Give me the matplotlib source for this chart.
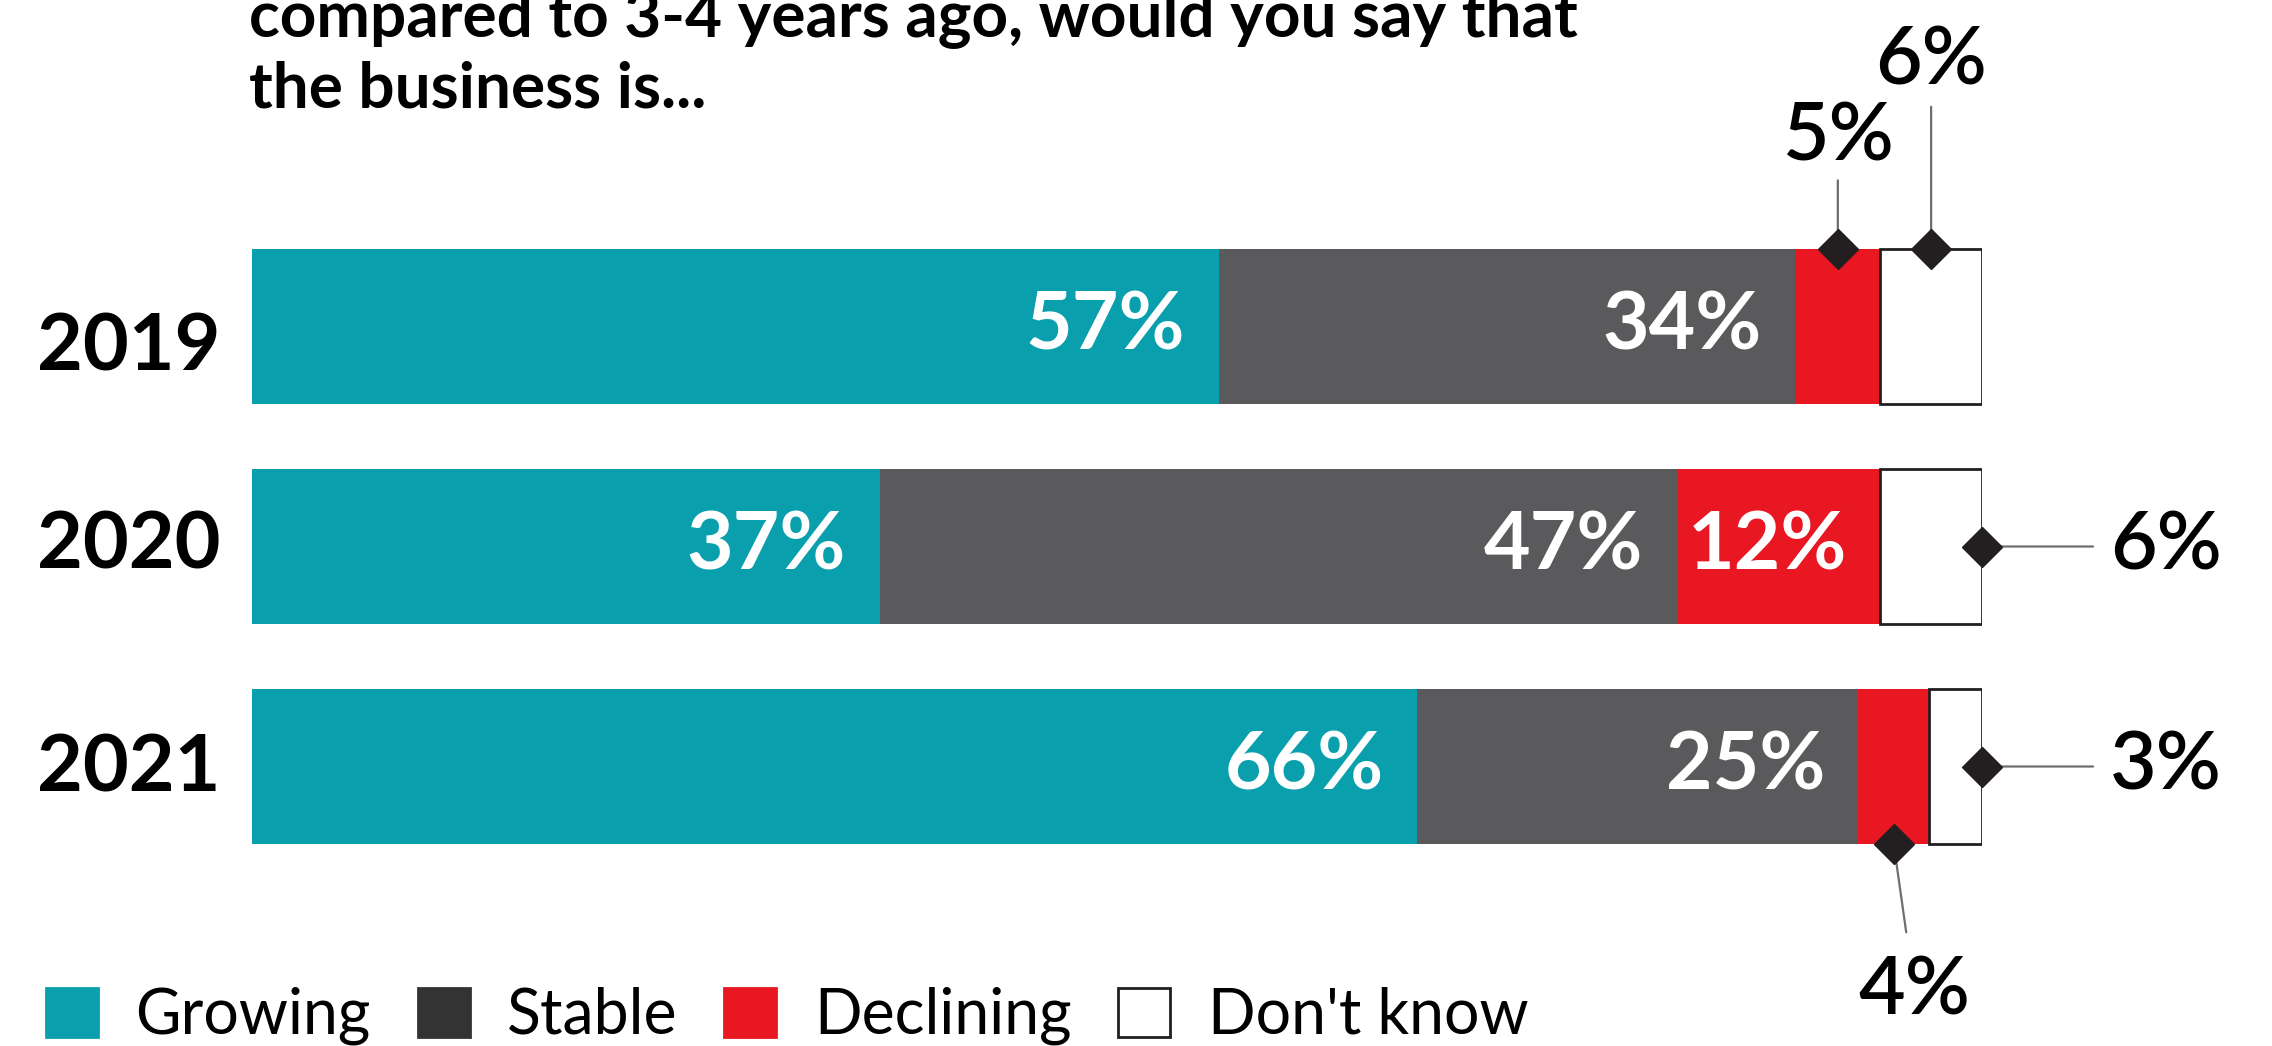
import numpy as np
import matplotlib.pyplot as plt
import matplotlib.transforms as mtransforms
from matplotlib.patches import Patch

plt.rcParams["font.family"] = ["Lato", "DejaVu Sans"]

# ============================================================
# DATA
# ============================================================
YEARS = ["2019", "2020", "2021"]
CATEGORIES = ["Growing", "Stable", "Declining", "Don't know"]
GROWING = [57, 37, 66]
STABLE = [34, 47, 25]
DECLINING = [5, 12, 4]
DONT_KNOW = [6, 6, 3]

TITLE = "compared to 3-4 years ago, would you say that\nthe business is..."

# ============================================================
# STYLE
# ============================================================
BAR_COLORS = ["#0a9fad", "#5a5a5c", "#e81721", "white"]
LEGEND_COLORS = ["#0a9fad", "#333333", "#e81721", "white"]
INK = "#231f20"
BAR_HEIGHT = 0.705
VALUE_SIZE = 58

# small segments get their value outside the bar with a leader line:
# (year index, category index, side, text offset in points, gap in points)
CALLOUTS = [
    (0, 2, "top", (0, 80), 2),
    (0, 3, "top", (0, 135), 4),
    (1, 3, "right", (92, 0), 10),
    (2, 3, "right", (92, 0), 10),
    (2, 2, "bottom", (15, -106), 14),
]
# the 2019 label sits a little lower than its bar
YEAR_NUDGE_PX = [-22, 0, -3]


def main():
    values = np.array([GROWING, STABLE, DECLINING, DONT_KNOW], dtype=float).T
    shares = values / values.sum(axis=1, keepdims=True)
    lefts = np.cumsum(shares, axis=1) - shares
    y = np.arange(len(YEARS))

    fig = plt.figure(figsize=(22.72, 10.46), dpi=100)
    ax = fig.add_axes([252 / 2272, 1 - 876.5 / 1046, 1730 / 2272, 660 / 1046])

    for j, cat in enumerate(CATEGORIES):
        edge = INK if BAR_COLORS[j] == "white" else "none"
        ax.barh(y, shares[:, j], left=lefts[:, j], height=BAR_HEIGHT,
                color=BAR_COLORS[j], edgecolor=edge, linewidth=2, label=cat, zorder=2)

    ax.set_xlim(0, 1)
    ax.set_ylim(len(YEARS) - 0.5, -0.5)
    ax.axis("off")

    # year labels left of the bars
    for i, year in enumerate(YEARS):
        tr = mtransforms.blended_transform_factory(ax.transAxes, ax.transData)
        tr = tr + mtransforms.ScaledTranslation(-32 / 100, YEAR_NUDGE_PX[i] / 100,
                                                fig.dpi_scale_trans)
        ax.text(0, i, year, transform=tr, ha="right", va="center",
                fontsize=57, fontweight="bold", color="black")

    outside = {(i, j) for i, j, *_ in CALLOUTS}

    # values inside the segments, right aligned
    for i in range(len(YEARS)):
        for j in range(len(CATEGORIES)):
            if (i, j) in outside:
                continue
            ax.annotate(f"{values[i, j]:.0f}%", xy=(lefts[i, j] + shares[i, j], i),
                        xytext=(-24, 0), textcoords="offset points",
                        ha="right", va="center", fontsize=VALUE_SIZE,
                        fontweight="bold", color="white", zorder=4)

    # callouts with a diamond on the bar edge
    for i, j, side, offset, gap in CALLOUTS:
        if side == "top":
            px, py = lefts[i, j] + shares[i, j] / 2, i - BAR_HEIGHT / 2
            ha = "center"
        elif side == "bottom":
            px, py = lefts[i, j] + shares[i, j] / 2, i + BAR_HEIGHT / 2
            ha = "center"
        else:
            px, py = lefts[i, j] + shares[i, j], i
            ha = "left"
        ax.annotate(f"{values[i, j]:.0f}%", xy=(px, py), xytext=offset,
                    textcoords="offset points", ha=ha, va="center",
                    fontsize=VALUE_SIZE, fontweight="semibold", color="black",
                    annotation_clip=False,
                    arrowprops=dict(arrowstyle="-", color="#6d6e70", lw=1.6,
                                    shrinkA=gap, shrinkB=0))
        ax.plot(px, py, marker="D", ms=20, color=INK, clip_on=False, zorder=6)

    fig.text(249 / 2272, 1 - 108 / 1046, TITLE, ha="left", va="baseline",
             fontsize=46, fontweight="bold", linespacing=1.28)

    handles = [Patch(facecolor=c, edgecolor=INK if c == "white" else c, linewidth=2)
               for c in LEGEND_COLORS]
    fig.legend(handles, CATEGORIES, loc="center left",
               bbox_to_anchor=(46 / 2272, 1 - 1016 / 1046), ncol=4,
               frameon=False, fontsize=45, handlelength=0.83, handleheight=0.83,
               handletextpad=0.6, columnspacing=0.75, borderpad=0,
               borderaxespad=0)

    fig.savefig("out.png", dpi=100)


if __name__ == "__main__":
    main()
